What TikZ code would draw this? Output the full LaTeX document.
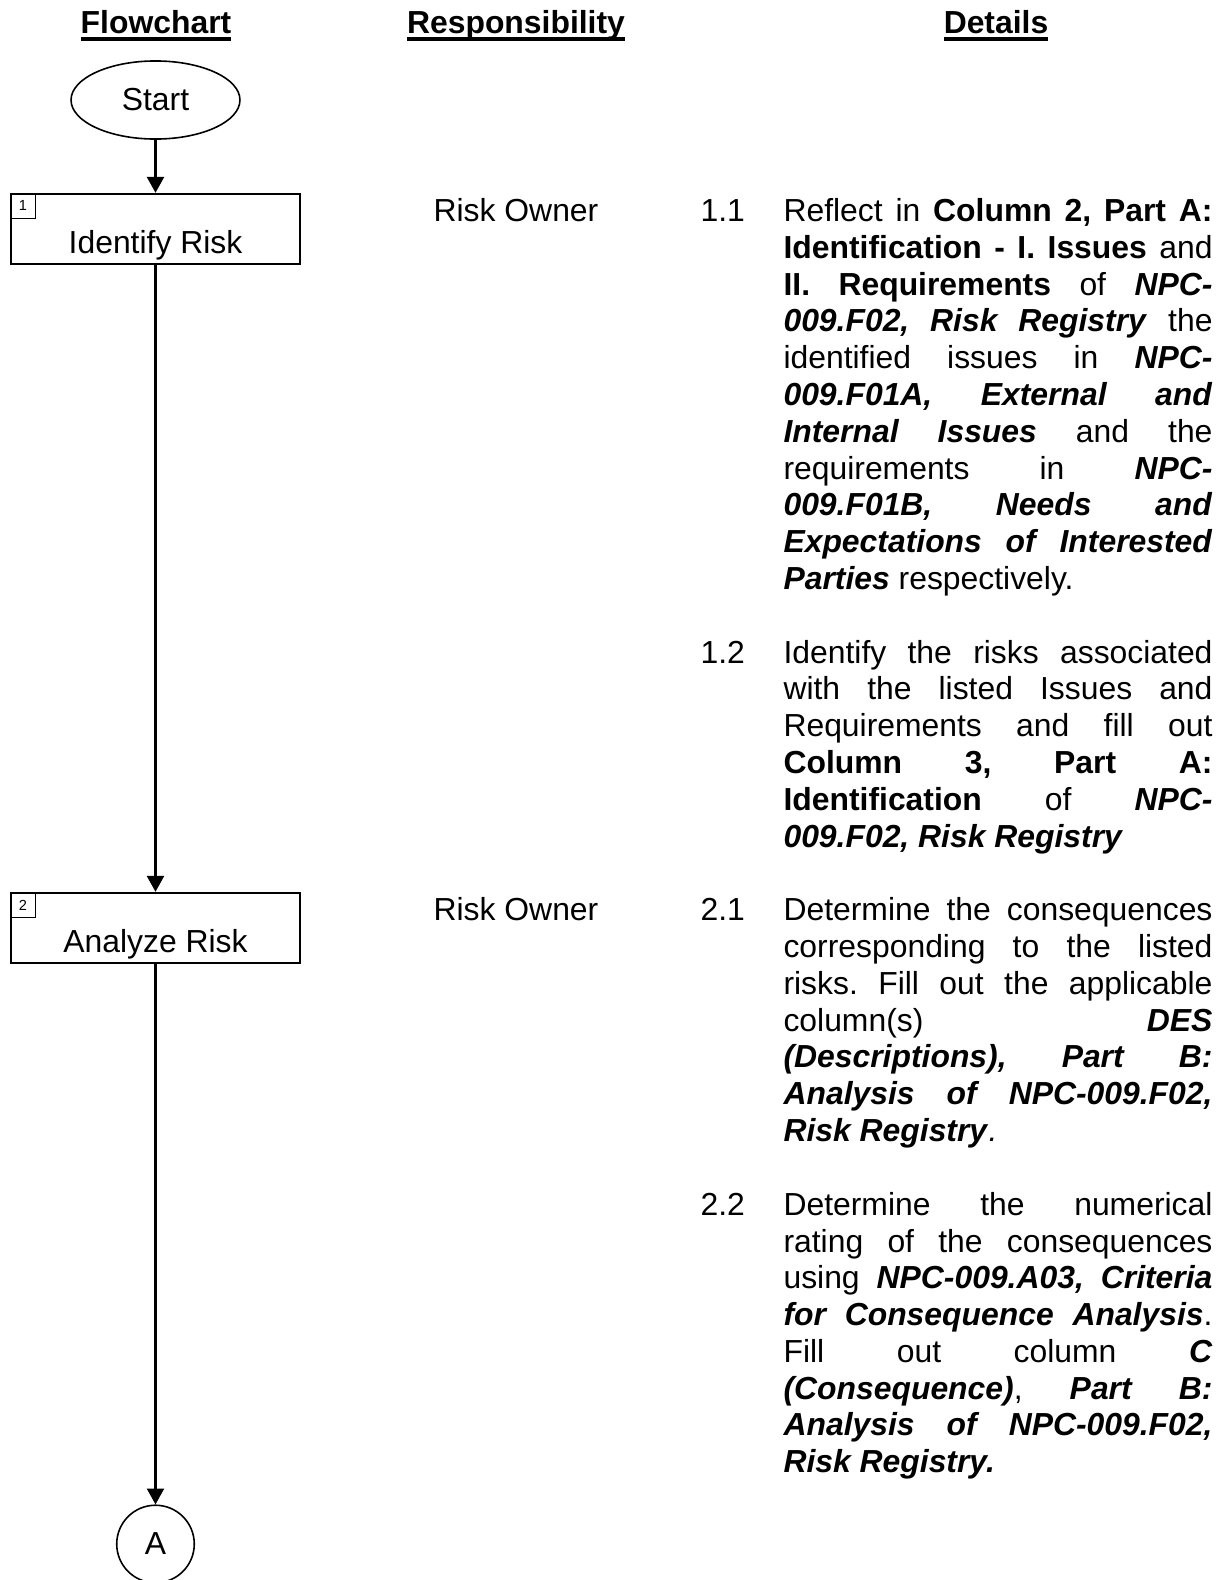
\documentclass[tikz,border=0pt]{standalone}
\usepackage{fontspec}
\setmainfont{Liberation Sans}
\usetikzlibrary{arrows.meta,shapes.geometric}

\newcommand{\docref}[1]{\textbf{\textit{#1}}}
\newcommand{\headul}[1]{\setbox0\hbox{\bfseries #1}\rlap{\rule[-2.9pt]{\wd0}{1.3pt}}\box0}

\tikzset{
  body/.style={font=\fontsize{12pt}{13.85pt}\selectfont},
  heading/.style={body, inner sep=0pt, anchor=base},
  terminal/.style={body, draw, ellipse, line width=0.6pt, minimum width=63.6pt, minimum height=29.4pt, inner sep=0pt},
  stepbox/.style={body, draw, line width=0.9pt, minimum width=108.8pt, minimum height=26.35pt, inner sep=0pt, text height=18.1pt, text depth=0pt},
  stepnum/.style={draw, line width=0.5pt, minimum size=9.4pt, inner sep=0pt, anchor=north west, font=\fontsize{5.5pt}{6pt}\selectfont},
  offpage/.style={body, draw, circle, line width=0.6pt, minimum size=29.2pt, inner sep=0pt},
  flow/.style={line width=0.9pt, -{Triangle[length=6pt,width=6.4pt]}},
  owner/.style={body, inner sep=0pt, anchor=base},
  detailno/.style={body, inner sep=0pt, anchor=base west},
  detail/.style={body, inner sep=0pt, anchor=base west, text width=161.5pt, align=justify,
    execute at begin node={\tolerance=10000\hyphenpenalty=10000\exhyphenpenalty=10000\frenchspacing}}
}

\begin{document}
\begin{tikzpicture}[x=0.3765pt, y=-0.3765pt]
  \useasboundingbox (0,0) rectangle (1226,1580);

  % column headings
  \node[heading] (hflow) at (156,33) {\headul{Flowchart}};
  \node[heading] (hresp) at (516,33) {\headul{Responsibility}};
  \node[heading] (hdet) at (996,33) {\headul{Details}};

  % flowchart
  \node[terminal] (start) at (155.5,100) {Start};
  \node[stepbox] (identify) at (155.5,229) {Identify Risk};
  \node[stepnum] (n1) at (identify.north west) {1};
  \node[stepbox] (analyze) at (155.5,928) {Analyze Risk};
  \node[stepnum] (n2) at (analyze.north west) {2};
  \node[offpage] (conA) at (155.5,1544) {A};

  \draw[flow] (start) -- (identify);
  \draw[flow] (identify) -- (analyze);
  \draw[flow] (analyze) -- (conA);

  % responsibility
  \node[owner] (own1) at (516,221.6) {Risk Owner};
  \node[owner] (own2) at (516,920.8) {Risk Owner};

  % details
  \node[detailno] (no11) at (700,221.6) {1.1};
  \node[detail] (d11) at (783,221.6) {Reflect in \textbf{Column 2, Part A:}\linebreak
    \textbf{Identification - I. Issues} and\linebreak
    \textbf{II. Requirements} of \docref{NPC-}\linebreak
    \docref{009.F02, Risk Registry} the\linebreak
    identified issues in \docref{NPC-}\linebreak
    \docref{009.F01A, External and}\linebreak
    \docref{Internal Issues} and the\linebreak
    requirements in \docref{NPC-}\linebreak
    \docref{009.F01B, Needs and}\linebreak
    \docref{Expectations of Interested}\linebreak
    \docref{Parties} respectively.};
  \node[detailno] (no12) at (700,663.2) {1.2};
  \node[detail] (d12) at (783,663.2) {Identify the risks associated\linebreak
    with the listed Issues and\linebreak
    Requirements and fill out\linebreak
    \textbf{Column 3, Part A:}\linebreak
    \textbf{Identification} of \docref{NPC-}\linebreak
    \docref{009.F02, Risk Registry}};
  \node[detailno] (no21) at (700,920.8) {2.1};
  \node[detail] (d21) at (783,920.8) {Determine the consequences\linebreak
    corresponding to the listed\linebreak
    risks. Fill out the applicable\linebreak
    column(s) \docref{DES}\linebreak
    \docref{(Descriptions), Part B:}\linebreak
    \docref{Analysis of NPC-009.F02,}\linebreak
    \docref{Risk Registry}\textit{.}};
  \node[detailno] (no22) at (700,1215.2) {2.2};
  \node[detail] (d22) at (783,1215.2) {Determine the numerical\linebreak
    rating of the consequences\linebreak
    using \docref{NPC-009.A03, Criteria}\linebreak
    \docref{for Consequence Analysis}.\linebreak
    Fill out column \docref{C}\linebreak
    \docref{(Consequence)}, \docref{Part B:}\linebreak
    \docref{Analysis of NPC-009.F02,}\linebreak
    \docref{Risk Registry.}};
\end{tikzpicture}
\end{document}
